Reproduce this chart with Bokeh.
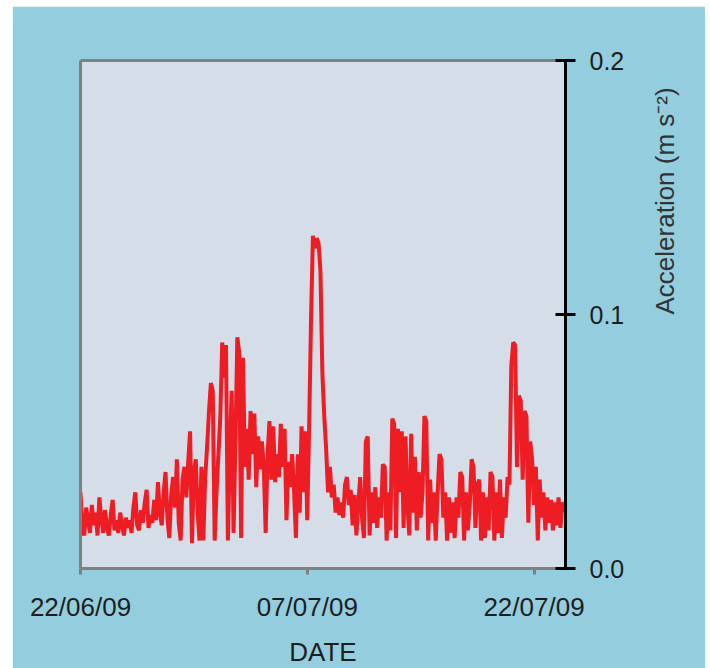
import math
import pandas as pd
from bokeh.plotting import figure
from bokeh.models import (Range1d, FixedTicker, DatetimeTickFormatter, PrintfTickFormatter,
                          LinearAxis, ColumnDataSource)
from bokeh.embed import file_html
from bokeh.resources import INLINE

# ---- data (acceleration, m s^-2, one value every 3 hours from 22/06/09) ----
start_date = "2009-06-22"
step = "3h"
accel_week1 = [0.030, 0.016, 0.013, 0.024, 0.019, 0.014, 0.025, 0.017, 0.022, 0.013,
               0.028, 0.020, 0.014, 0.023, 0.016, 0.013, 0.021, 0.027, 0.015, 0.019,
               0.014, 0.022, 0.017, 0.013, 0.020, 0.016, 0.019, 0.014, 0.024, 0.030,
               0.017, 0.015, 0.023, 0.018, 0.026, 0.031, 0.016, 0.021, 0.018, 0.027,
               0.019, 0.034, 0.022, 0.017, 0.030, 0.038, 0.020, 0.012, 0.029, 0.036,
               0.024, 0.043, 0.018, 0.011, 0.035, 0.040, 0.028, 0.042, 0.054, 0.010,
               0.038, 0.043, 0.022, 0.011]
accel_week2 = [0.040, 0.011, 0.036, 0.048, 0.062, 0.073, 0.070, 0.011, 0.030, 0.045,
               0.060, 0.089, 0.075, 0.088, 0.011, 0.045, 0.070, 0.014, 0.050, 0.091,
               0.085, 0.012, 0.083, 0.040, 0.055, 0.035, 0.062, 0.045, 0.061, 0.032,
               0.052, 0.039, 0.050, 0.040, 0.014, 0.045, 0.058, 0.035, 0.056, 0.034,
               0.045, 0.036, 0.057, 0.040, 0.055, 0.019, 0.042, 0.032, 0.045, 0.031,
               0.012, 0.045, 0.022, 0.056, 0.030, 0.054, 0.019, 0.056, 0.098, 0.131,
               0.126, 0.130, 0.128, 0.117]
accel_week3 = [0.077, 0.060, 0.047, 0.030, 0.040, 0.028, 0.033, 0.022, 0.028, 0.021,
               0.026, 0.020, 0.033, 0.036, 0.025, 0.031, 0.017, 0.029, 0.013, 0.025,
               0.036, 0.020, 0.012, 0.050, 0.052, 0.013, 0.030, 0.018, 0.032, 0.016,
               0.028, 0.020, 0.041, 0.040, 0.011, 0.030, 0.015, 0.059, 0.057, 0.012,
               0.055, 0.030, 0.054, 0.016, 0.052, 0.025, 0.013, 0.053, 0.022, 0.044,
               0.015, 0.038, 0.020, 0.030, 0.060, 0.058, 0.011, 0.035, 0.018, 0.030,
               0.011, 0.030, 0.045, 0.043]
accel_week4 = [0.020, 0.030, 0.011, 0.028, 0.014, 0.026, 0.012, 0.028, 0.020, 0.038,
               0.036, 0.011, 0.030, 0.015, 0.025, 0.043, 0.040, 0.016, 0.033, 0.035,
               0.011, 0.030, 0.012, 0.028, 0.015, 0.038, 0.036, 0.011, 0.030, 0.014,
               0.035, 0.012, 0.028, 0.020, 0.036, 0.033, 0.080, 0.089, 0.088, 0.040,
               0.068, 0.066, 0.035, 0.062, 0.060, 0.018, 0.050, 0.043, 0.025, 0.040,
               0.011, 0.035, 0.020, 0.030, 0.015, 0.028, 0.018, 0.027, 0.015, 0.026,
               0.017, 0.028, 0.016, 0.026, 0.022]

x_tick_dates = ["2009-06-22", "2009-07-07", "2009-07-22"]
x_end_date = "2009-07-24 02:00"
y_ticks = [0.0, 0.1, 0.2]
x_title = "DATE"
y_title = "Acceleration (m s\u207b\u00b2)"

accel = accel_week1 + accel_week2 + accel_week3 + accel_week4
dates = pd.date_range(start_date, periods=len(accel), freq=step)
source = ColumnDataSource(dict(date=dates, accel=accel))

# ---- styling ----
BG = "#93CDDE"
FRAME_BG = "#D5DDE9"
RED = "#EE1D23"
GREY = "#808080"
FONT = "Liberation Sans"
TXT = "#1E1E1E"

p = figure(x_axis_type="datetime", y_axis_location="right",
           x_range=Range1d(pd.Timestamp(start_date), pd.Timestamp(x_end_date)),
           y_range=Range1d(0, 0.2),
           frame_width=485, frame_height=508,
           min_border_left=68, min_border_top=54, min_border_right=140, min_border_bottom=98,
           output_backend="svg", toolbar_location=None)
p.margin = (6, 0, 0, 12)

p.background_fill_color = FRAME_BG
p.border_fill_color = BG
p.outline_line_color = None
p.xgrid.visible = False
p.ygrid.visible = False

p.line("date", "accel", source=source, color=RED, line_width=4, line_join="bevel")

# x axis
xa = p.xaxis[0]
xa.ticker = FixedTicker(ticks=[pd.Timestamp(d).value / 1e6 for d in x_tick_dates])
fmt = "%d/%m/%y"
xa.formatter = DatetimeTickFormatter(microseconds=fmt, milliseconds=fmt, seconds=fmt,
                                     minsec=fmt, minutes=fmt, hourmin=fmt, hours=fmt,
                                     days=fmt, months=fmt, years=fmt)
xa.axis_line_color = GREY
xa.axis_line_width = 3
xa.major_tick_line_color = GREY
xa.major_tick_line_width = 3
xa.major_tick_in = 0
xa.major_tick_out = 6
xa.minor_tick_line_color = None
xa.major_label_standoff = 17
xa.major_label_text_font = FONT
xa.major_label_text_font_size = "26px"
xa.major_label_text_color = TXT
xa.axis_label = x_title
xa.axis_label_text_font = FONT
xa.axis_label_text_font_size = "26px"
xa.axis_label_text_font_style = "normal"
xa.axis_label_text_color = TXT
xa.axis_label_standoff = 12

# y axis (right)
ya = p.yaxis[0]
ya.ticker = FixedTicker(ticks=y_ticks)
ya.formatter = PrintfTickFormatter(format="%.1f")
ya.axis_line_color = "black"
ya.axis_line_width = 3
ya.major_tick_line_color = "black"
ya.major_tick_line_width = 3
ya.major_tick_in = 10
ya.major_tick_out = 10
ya.minor_tick_line_color = None
ya.major_label_standoff = 14
ya.major_label_text_font = FONT
ya.major_label_text_font_size = "25px"
ya.major_label_text_color = TXT
ya.axis_label = y_title
ya.axis_label_text_font = FONT
ya.axis_label_text_font_size = "26px"
ya.axis_label_text_font_style = "normal"
ya.axis_label_text_color = "#333333"
ya.axis_label_standoff = 38
try:
    ya.axis_label_orientation = math.pi / 2
except Exception:
    pass

# grey frame edges on the left and top
for side in ("left", "above"):
    ax = LinearAxis(ticker=FixedTicker(ticks=[]), axis_line_color=GREY, axis_line_width=3,
                    major_tick_line_color=None, minor_tick_line_color=None,
                    major_label_text_font_size="0px")
    p.add_layout(ax, side)

open("out.html", "w").write(file_html(p, INLINE))
